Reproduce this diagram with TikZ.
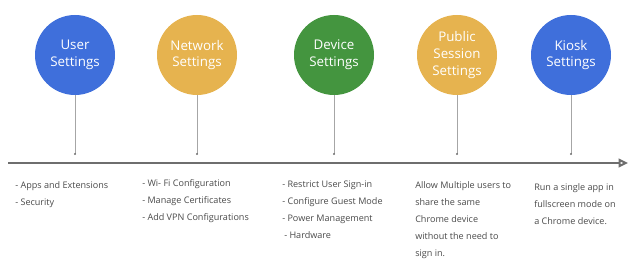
\documentclass[tikz,border=0pt]{standalone}
\usepackage{fontspec}
\setmainfont{Open Sans}
\usetikzlibrary{arrows.meta}
\definecolor{userblue}{HTML}{3F6FDB}
\definecolor{netyellow}{HTML}{E6B34F}
\definecolor{devgreen}{HTML}{44953F}
\definecolor{axisgray}{HTML}{6E6E6E}
\definecolor{stemgray}{HTML}{A6A6A6}
\definecolor{textgray}{HTML}{4A4A4A}
\begin{document}
\begin{tikzpicture}[x=0.75pt,y=-0.75pt,
  topic/.style={circle,minimum size=60pt,inner sep=0pt,text=white,align=center,
    font=\fontsize{10}{12.5}\selectfont},
  stem/.style={stemgray,line width=0.75pt},
  axis/.style={axisgray,line width=1.5pt,-{Triangle[open,length=7pt,width=6.5pt]}},
  notes/.style={anchor=north west,align=left,inner sep=0pt,text=textgray,
    font=\fontsize{6.8}{12.75}\selectfont}]
  \useasboundingbox (0,0) rectangle (640,260);
  \coordinate (start) at (8,163);
  \coordinate (end) at (628,163);
  \draw[axis] (start) -- (end);
  \foreach \name/\x/\col/\lab in {user/75/userblue/User\\Settings,
      network/197/netyellow/Network\\Settings, device/334/devgreen/Device\\Settings,
      public/457/netyellow/Public\\Session\\Settings, kiosk/571/userblue/Kiosk\\Settings} {
    \node[topic,fill=\col] (\name) at (\x,55) {\lab};
    \coordinate (\name-dot) at (\x,154);
    \draw[stem] (\name) -- (\name-dot);
    \fill[axisgray] (\name-dot) circle (0.9pt);
  }
  \node[notes] (user-notes) at (15,181.5) {- Apps and Extensions\\- Security};
  \node[notes] (network-notes) at (142,179) {- Wi- Fi Configuration\\- Manage Certificates\\- Add VPN Configurations};
  \node[notes] (device-notes) at (282,181) {- Restrict User Sign-in\\- Configure Guest Mode\\- Power Management\\\hspace{1.5pt}- Hardware};
  \node[notes] (public-notes) at (415,181.5) {Allow Multiple users to\\share the same\\Chrome device\\without the need to\\sign in.};
  \node[notes] (kiosk-notes) at (534,183) {Run a single app in\\fullscreen mode on\\a Chrome device.};
\end{tikzpicture}
\end{document}
